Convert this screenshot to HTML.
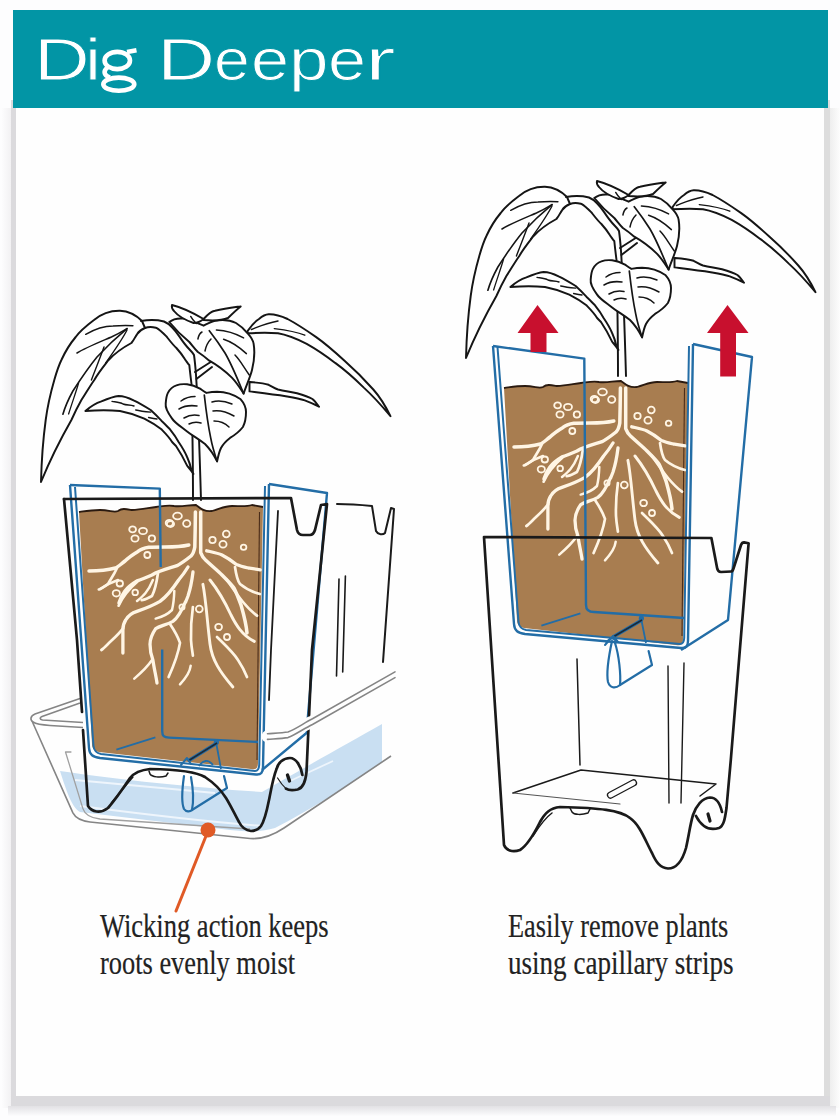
<!DOCTYPE html>
<html><head><meta charset="utf-8">
<style>
html,body{margin:0;padding:0;width:840px;height:1120px;overflow:hidden;background:#fdfdfe;}
body{position:relative;font-family:"Liberation Sans",sans-serif;}
.shL{position:absolute;left:2px;top:108px;width:9px;height:1000px;background:linear-gradient(to right,#fcfcfd,#f2f1f3);}
.bdL{position:absolute;left:11px;top:100px;width:5px;height:1006px;background:#dbdadd;}
.shR{position:absolute;left:830px;top:108px;width:10px;height:1000px;background:linear-gradient(to right,#eeeeee,#fdfdfd);}
.bdR{position:absolute;left:824px;top:100px;width:6px;height:1006px;background:#dddddd;}
.shB{position:absolute;left:8px;top:1106px;width:828px;height:10px;background:linear-gradient(to bottom,#e2e1e4,#fcfcfd);}
.bdB{position:absolute;left:11px;top:1096px;width:819px;height:10px;background:#dbdadd;}
.panel{position:absolute;left:16px;top:100px;width:808px;height:996px;background:#fefefe;}
.hdr{position:absolute;left:12.5px;top:9.5px;width:815px;height:98.5px;background:#0295a5;}
.ttl{position:absolute;left:0;top:15px;color:#fff;font-size:60px;line-height:90px;white-space:nowrap;}
.tl{position:absolute;top:0;transform-origin:0 0;-webkit-text-stroke:0.9px #0295a5;}
.cap{position:absolute;font-family:"Liberation Serif",serif;color:#222;-webkit-text-stroke:0.2px #222;font-size:33px;line-height:49.5px;white-space:nowrap;transform-origin:0 0;}
svg{position:absolute;left:0;top:0;}
</style></head><body>
<div class="shL"></div><div class="shR"></div><div class="shB"></div>
<div class="bdL"></div><div class="bdR"></div><div class="bdB"></div>
<div class="panel"></div>
<div class="hdr"></div>
<div class="ttl"><span class="tl" style="left:33.6px;transform:scaleX(1.286)">D</span><span class="tl" style="left:85.2px;transform:scaleX(1.2)">i</span><span class="tl" style="left:157.3px;transform:scaleX(1.343)">D</span><span class="tl" style="left:213.8px;transform:scaleX(1.07)">e</span><span class="tl" style="left:250.6px;transform:scaleX(1.14)">e</span><span class="tl" style="left:289.3px;transform:scaleX(1.185)">p</span><span class="tl" style="left:327.6px;transform:scaleX(1.14)">e</span><span class="tl" style="left:364.9px;transform:scaleX(1.53)">r</span></div>
<div class="cap" style="left:100px;top:902px;transform:scaleX(0.8035)">Wicking action keeps</div><div class="cap" style="left:100px;top:939px;transform:scaleX(0.80)">roots evenly moist</div><div class="cap" style="left:508px;top:902px;transform:scaleX(0.796)">Easily remove plants</div><div class="cap" style="left:508px;top:939px;transform:scaleX(0.82)">using capillary strips</div>
<svg width="840" height="1120" viewBox="0 0 840 1120">
<defs><g id="plant" fill="none" stroke="#151515" stroke-width="1.95" stroke-linejoin="round" stroke-linecap="round">
  <!-- big left leaf -->
  <path fill="#fff" d="M142,321 C135,314 128,311 120,310.7 C110,310.5 101,314 94,320 C86,326 80,331 75.7,337 C69,345 65,352 61.4,360 C58,367 56,374 54.3,380 C50,395 47,410 45.7,420 C43,440 41.5,462 41,482 C50,460 60,440 71.4,420 C75,412 78,406 81.4,400 C86,393 90,386 94.3,380 C99,372 104,366 108.6,360 C116,352 124,347 131.4,343 C134,340 135,337 137,334.3 C139,331 141,329.5 145,328 Z"/>
  <path stroke-width="1.5" d="M85.7,334.3 C95,329 105,326 113,326 C120,325.5 127,325.5 132.9,325.7"/>
  <path stroke-width="1.5" d="M77,353 C85,348 95,344 111.4,337 C118,334 123,331 127,328.6"/>
  <path stroke-width="1.6" d="M127,328.6 C118,336 110,343 97,357 C88,368 80,380 72.9,391 C68,400 65,407 62.9,414.3"/>
  <path stroke-width="1.4" d="M127,330 C122,340 117,347 105.7,362.9"/>
  <path stroke-width="1.4" d="M104,347 C100,358 96,368 91.4,380"/>
  <path stroke-width="1.3" d="M78.6,383 C76,392 73,400 68.6,414"/>
  <!-- petiole + stem -->
  <path d="M141,321 C150,319.5 158,320 164,321.5 C170,324 175,330 179.3,336.4 C183,342 187,347 190,350 C192,352 193,353 194,355 C195,362 195.5,368 196,375 C197,390 199,430 201,500"/>
  <path d="M145,328 C150,326 153,327 156.4,327.9 C160,330 163,333 166.4,336.4 C170,341 173,345 176.4,348 C180,352 183,356 185,359.3 C187,362 188,364 189.3,365 C190,372 191,380 191.5,384 C192,410 193,450 193,500"/>
  <path d="M195,372 L210.7,362"/>
  <path d="M196.4,379 L212,367"/>
  <!-- right long leaf -->
  <path fill="#fff" d="M247.6,331 C251,326 254,322 259,319 C262,316.5 265,314.5 268.6,314.3 C275,314 281,316 287.6,319 C297,324 306,330 316.2,337.1 C326,344 335,352 344.8,361 C355,370 364,379 373.3,389.5 C380,397 385,405 390.5,416.2 C382,406 373,396 363.8,387.6 C354,378 345,370 335.2,362.9 C325,355 316,349 306.7,343.8 C297,339 288,335 278,333.3 C268,332.5 258,332.8 247.6,333.3 Z"/>
  <path stroke-width="1.4" d="M251.4,329.5 C258,327 265,323.5 278,321"/>
  <path stroke-width="1.4" d="M274.3,328.6 C286,330 297,332 304.8,335.2"/>
  <!-- top center leaf -->
  <path fill="#fff" d="M169.3,322 C173,319 178,318 183.6,318.6 C190,319.5 197,323 203.6,325.7 C207,324 211,321.5 215,320.7 C222,319.5 230,320 236,323 C241,326 245,330 247.9,333.6 C251,337 253,340 253.6,343.6 C255,352 254,362 252,370 C250,378 246,386 243.6,393.6 C240,388 237,383 232.1,377.9 C225,371 217,365 209.3,360.7 C205,357 201,354 197.9,352 C194,348 192,345 189.3,342 C182,336 175,329 169.3,322 Z"/>
  <path stroke-width="1.7" d="M209.3,330.7 C215,338 220,345 225,353 C232,365 238,380 243.6,393.6"/>
  <path stroke-width="1.5" d="M197.9,339 C198.5,336 200,333 202,332"/>
  <path stroke-width="1.5" d="M205,351 C206,346 208,342 211,339"/>
  <path stroke-width="1.5" d="M216.4,330 C225,330.5 233,332 243.6,337.9"/>
  <path stroke-width="1.5" d="M223.6,339.3 C232,342 238,346 246.4,353.6"/>
  <path stroke-width="1.5" d="M235,355 C240,360 243,366 249.3,375"/>
  <!-- small top leaf A -->
  <path fill="#fff" d="M172,305 C180,307 190,311 203.6,319 C200,322 196,323 193.6,323 C185,320 178,316 174,311 C172,309 171.5,307 172,305 Z"/>
  <path stroke-width="1.4" d="M190.7,316.4 C192,319 194,321 196.4,323.6"/>
  <!-- small top leaf B -->
  <path fill="#fff" d="M203.6,319 C208,314 213,311 215,310.7 C225,308.5 233,307.5 240.7,306.4 C236,310 232,314 228,318 C222,320.5 215,321 203.6,320 Z"/>
  <!-- lower right small leaf -->
  <path fill="#fff" d="M249.5,382 C256,382.5 263,383 268.6,384.8 C272,386.5 275,388.5 278,389.5 C285,391 291,392 297,393.3 C303,395 308,396.5 312.4,399 C315,401 317,404 319,406.7 C314,404 309,402 304.8,400.4 C299,398.5 293,397.5 285.7,396.2 C274,394.5 262,393 249.5,391.4 Z"/>
  <!-- lower heart leaf -->
  <path fill="#fff" d="M167.9,392.9 C170,389 173,386.5 176.4,385.4 C180,384 184,384 187.1,384.3 C192,385 196,386.5 200,388.6 C202,390 204,391.5 206.4,392.9 C210,392.3 213.5,391.9 217.1,391.8 C225,391.8 233,394 240.7,399.3 C244,403 246,407 246,412 C246,418 245,423 242.9,427 C239,432 235,435 230,437.9 C226,441 223,444 221,448 C219,452 218,457 217.1,461.4 C214,455 210,449 205,444 C197,438 193,436 187.1,431.4 C180,426 175,423 172.1,418.6 C168,413 165,408 165.7,403.6 C166,399 166.5,395.5 167.9,392.9 Z"/>
  <path stroke-width="1.7" d="M204.3,395 C206,410 208,425 210.7,437.9 C212,445 214,452 217.1,461.4"/>
  <path stroke-width="1.5" d="M181,401 C185,398 190,396.5 195,396.5"/>
  <path stroke-width="1.5" d="M179,409 C184,406 190,405 197,406"/>
  <path stroke-width="1.5" d="M184,418 C189,415 194,414.5 199,415.5"/>
  <path stroke-width="1.5" d="M189,424 C193,422 197,422 201,423"/>
  <path stroke-width="1.5" d="M212,402 C218,400 225,401 232,404"/>
  <path stroke-width="1.5" d="M213,411 C220,410 227,412 234,416"/>
  <path stroke-width="1.5" d="M214,421 C220,421 225,423 229,427"/>
  <!-- lower left leaf -->
  <path fill="#fff" d="M85.4,411 C90,407 95,403.5 101.4,401.4 C107,399 113,396.5 118.6,396 C124,396 129,398 133.6,400.4 C140,403.5 145,406.5 150.7,410 C154,413 158,417 161.4,420.7 C165,424 167,426.5 170,429.3 C173,433 176,437 178.6,442 C182,447 185,452 187.1,457 C189,461 190.5,466 191.4,470 C192,472 193,473 193.5,474 C191,470 189,468 187.1,465.7 C184,459 180,452 176,446 C174,444 173,443 172.1,442 C169,437 165,433 161.4,429.3 C156,425 150,421.5 144.3,418.6 C136,415 128,412.5 120,411 C110,410 98,410 85.4,411 Z"/>
  <path stroke-width="1.4" d="M112,401.4 C116,402 120,402 123,404 C127,405.5 130,404.5 134,406"/>
  <path stroke-width="1.4" d="M135.7,410 C140,411 144,411.5 150.7,412.1"/>
  <path stroke-width="1.4" d="M148.6,417.5 C151,418 153,418.5 157,419"/>
</g>
<g id="liner">
  <!-- soil -->
  <path fill="#a87d50" d="M79,512 C86,511 92,510 100,510 C110,510 114,513 118,511 C122,508 126,509 132,510 C140,510 148,508 156,507 C164,506 168,505 174,506 C182,507 188,505 196,505 C200,508 204,512 212,511 C220,509 224,506 232,506 C240,506 246,507 252,505 L263,507 L258,763 C258,768 256,770 251,769 L99,752 C95,751 92,749 92,744 Z"/>
  <path fill="none" stroke="#2a1a10" stroke-width="1.8" d="M79,512 C86,511 92,510 100,510 C110,510 114,513 118,511 C122,508 126,509 132,510 C140,510 148,508 156,507 C164,506 168,505 174,506 C182,507 188,505 196,505 C200,508 204,512 212,511 C220,509 224,506 232,506 C240,506 246,507 252,505 L263,507"/>
  <path fill="none" stroke="#4a2c18" stroke-width="1.1" d="M259.5,512 L257,760"/>
  <!-- strip edge in soil -->
  
  <!-- roots -->
  <g fill="none" stroke="#fff5e4" stroke-linecap="round" stroke-linejoin="round">
    <!-- taproot left line -> root2 -->
    <path stroke-width="3.5" d="M195.4,512 C195.3,525 195,540 194.8,547 C194,552 192,555 191,556 C186,560 182,563 177,565.7 C170,568 160,570 152,575 C145,578 140,580 137,581 C132,584 128,587 125,591 C122,595 120,599 119,603"/>
    <!-- taproot right line -->
    <path stroke-width="3.5" d="M200.7,512 C200.7,525 200.7,540 200.7,552.6 C202,556 203,558 205.5,560 C212,566 218,571 222,575 C227,580 231,584 234,588 C237,594 239,600 241,605 C243,612 246,622 247,633"/>
    <!-- root1 upper-left lateral -->
    <path stroke-width="3.5" d="M188.8,545 C180,547 172,547 165,547 C158,547 152,547 148.8,547.3 C144,548 141,549 138,551.4 C132,555 128,558 125,561 C121,564 118,567 115.5,568 C108,570 98,571 89,571"/>
    <path stroke-width="2.7" d="M117,568 C114,575 110,580 108,584 C104,587 101,589 98.8,589.5"/>
    <!-- root 2 branch -->
    <path stroke-width="2.7" d="M158,573 C157,580 155,590 152,596 C148,598 145,600 141.7,600.2"/>
    <!-- right lateral -->
    <path stroke-width="3.3" d="M206.7,550.8 C212,552 218,553 222,555 C228,558 232,561 236.4,564.5 C240,566 244,567 248.3,568 C252,568.5 256,569 260.2,569.9"/>
    <path stroke-width="2.7" d="M235,567 C236,574 237,580 240,584 C246,589 252,592 260,594"/>
    <!-- center-left main root -->
    <path stroke-width="3.3" d="M188,567 C185,572 182,576 178.6,580 C172,590 166,597 160,601.4 C152,606 144,609 137,611.4 C132,613 128,616 125.7,620 C123,624 122.9,628 122.9,630 C122.9,640 122.9,646 122.9,653"/>
    <path stroke-width="2.7" d="M122.9,628.6 C118,635 112,640 108,644 C105,647 103,649 101.4,650"/>
    <!-- long down root -->
    <path stroke-width="3.3" d="M193,572 C192,580 190,590 188,596 C186,601 185,604 185.7,601.4 C182,610 178,618 172.9,621.4 C166,625 160,626 155.7,628.6 C152,634 150,640 150,644.3 C150,650 151,655 152.9,660 C154,668 156,676 157,683"/>
    <path stroke-width="2.5" d="M152,660 C148,666 142,672 134.3,678.6"/>
    <path stroke-width="2.5" d="M174.3,591 C174,600 173,606 172,610 C168,614 162,617 155.7,618.6"/>
    <path stroke-width="2.7" d="M170,624 C174,630 178,637 180,642.9 C178,655 174,665 168.6,677"/>
    <!-- second-from-center -->
    <path stroke-width="2.7" d="M192.9,607 C191,620 190.7,630 191,640 C191.5,648 192.5,652 192.9,655.7"/>
    <path stroke-width="2.5" d="M190.7,665.7 C190,672 186,678 180,684.3"/>
    <!-- center-right down root -->
    <path stroke-width="2.9" d="M202.9,584.3 C206,600 207,620 210,644 C212,660 220,672 232.9,687"/>
    <!-- right of center -->
    <path stroke-width="2.9" d="M210,580 C218,590 224,600 231,615 C236,625 242,635 254.3,641.4"/>
    <path stroke-width="2.7" d="M217,637 C225,645 233,652 238,660 C242,666 245,672 247,677"/>
    <path stroke-width="2.7" d="M227,580 C234,590 238,596 243,602 C248,608 252,612 257,615.7"/>
    <!-- top right branches of upper lateral -->
    <path stroke-width="2.5" d="M100,589 C106,585 112,582 118,580"/>
    <path stroke-width="2.7" d="M118.6,605.7 C124,594 130,588 137,582"/>
    <path stroke-width="2.5" d="M137,601 C143,596 148,592 152.9,580"/>
  </g>
  <g fill="none" stroke="#fff5e4" stroke-width="1.8">
    <ellipse cx="132.6" cy="529.4" rx="3.4" ry="3"/><ellipse cx="143" cy="531" rx="4" ry="3.2"/>
    <ellipse cx="135" cy="538.5" rx="3.6" ry="3.2"/><ellipse cx="151.9" cy="538.5" rx="3.2" ry="3.2"/>
    <ellipse cx="147.3" cy="555" rx="3" ry="3"/>
    <ellipse cx="119.8" cy="583.5" rx="3.2" ry="3"/><ellipse cx="116.3" cy="593.3" rx="3.6" ry="3.2"/><ellipse cx="135.2" cy="592.4" rx="2.8" ry="2.8"/>
    <ellipse cx="170.5" cy="524" rx="3.6" ry="3"/>
    <ellipse cx="177.5" cy="516" rx="4.4" ry="3.4"/><ellipse cx="169.3" cy="523" rx="3.6" ry="3.2"/><ellipse cx="186.7" cy="523.5" rx="3.6" ry="3.4"/>
    <ellipse cx="226.3" cy="534" rx="3.4" ry="3.4"/><ellipse cx="212.5" cy="540" rx="3.2" ry="3.2"/><ellipse cx="223" cy="544.3" rx="3.6" ry="3.4"/><ellipse cx="243.6" cy="547.3" rx="2.8" ry="2.6"/>
    <ellipse cx="182" cy="607" rx="2.6" ry="2.6"/><ellipse cx="199.3" cy="609" rx="3.4" ry="3.4"/>
    <ellipse cx="218.6" cy="627" rx="3.4" ry="3.2"/><ellipse cx="227" cy="637" rx="3" ry="3"/>
  </g>
  
  
</g>
</defs>
<g fill="none" stroke="#fff" stroke-width="4.6"><ellipse cx="117.3" cy="60.5" rx="12.7" ry="8.6"/><path d="M127,52 L136.5,50.3" stroke-linecap="butt"/><ellipse cx="118.8" cy="84.2" rx="15.5" ry="6.6"/><path d="M107.5,67.5 C103.5,70.5 103,75 110,77.6"/></g>
<use href="#plant"/>
<use href="#plant" transform="translate(425,-124)"/>
<g id="leftpot">
  <!-- back pot (right) -->
  <g fill="none" stroke="#1a1a1a" stroke-width="1.8" stroke-linejoin="round" stroke-linecap="round">
    <path d="M337,504 C350,504 362,505 372,506 L376,531 C378,535 383,535 385,533 L391,508 L394,509 L383,662" stroke-width="2"/>
    <path d="M339,579 L336.5,676" stroke-width="1.6"/>
    <path d="M345.4,576 L342.7,672" stroke-width="1.6"/>
    
  </g>
  <!-- water -->
  <path fill="#c9dff2" d="M60,771 C120,780 200,788 262,792 C300,770 345,745 382,724 L382,762 C350,785 310,810 275,828 C262,832 250,832 230,830 L80,812 C72,808 66,790 60,771 Z"/>
  <path fill="none" stroke="#eef5fc" stroke-width="2" d="M80,806 C150,815 210,822 262,826"/><path fill="none" stroke="#eef5fc" stroke-width="1.8" d="M75,780 C120,784 170,789 215,793"/><path fill="none" stroke="#eef5fc" stroke-width="1.8" d="M290,781 L333,761"/>
  <!-- tray -->
  <g fill="none" stroke="#858585" stroke-width="1.6" stroke-linejoin="round">
    <path d="M80,698.5 L35,714 C30,716 30,720 33,722 C36,724 42,725 50,725.5 L83,727.5"/>
    <path d="M80,703 L42,716.5 C39.5,717.5 39.5,719.5 42.5,720 L83,722.5"/>
            <path d="M32,721 L72.9,812.9 C76,819 82,821 90,822 L250,838.5 C262,839.5 272,836 284,828 L391,756"/>
    <path d="M71.4,752 L65.5,752 L82.9,808.6 C85,815 90,818 100,819 L250,829" stroke="#a0a0a0" stroke-width="1.3"/>
  </g>
  <use href="#liner"/>
  <!-- liner outline & strips -->
  <g fill="none" stroke="#236da6" stroke-linejoin="round" stroke-width="2.4">
    <path d="M70,485 L89,748 C89.5,755 93,757 100,758 L256,774.5 C261,775 263,772.5 263,767 L269,484"/>
    <path stroke-width="2" d="M75,487 L93.5,746 C94,751 96.5,753 101,754 L255,771 C258,771 259,769 259.2,765 L265,486"/>
    <path d="M70,485 L159.8,488.6 L160.7,567"/>
    <path stroke="#236da6" d="M162.2,649.5 L162.2,731 C162.2,736 164,737.4 169,737.6 L258,742"/>
    <path stroke="#236da6" stroke-width="1.8" d="M116.4,749.6 L155.4,737.4"/>
    <circle cx="216.4" cy="742.2" r="2.6" fill="#236da6" stroke="none"/>
    <path stroke-width="1.8" d="M216.4,744 L221,769"/>
    <path stroke-width="1.8" d="M199,766 C203,760 208,759 213,765"/>
    <path d="M269,484 L327,493 L306.5,733 L262,770"/>
    
  </g>
  <path d="M188,761 L217,743" stroke="#236da6" stroke-width="3.6" fill="none"/><path d="M188,761 L217,743" stroke="#1a2a3a" stroke-width="1.6" fill="none"/>
  <!-- wick -->
  <g fill="none" stroke="#236da6" stroke-linejoin="round" stroke-linecap="round">
    <path stroke-width="2.2" d="M184,776 C182,790 181,802 184,809 C186,812 190,812 192,810 C194,800 193,788 191,777"/>
    <path stroke-width="2.2" d="M192,810 L227,788 L224,776"/>
    <path stroke-width="2" d="M181,765 L187,758 L191,764"/>
  </g>
  <!-- front pot black -->
  <g fill="none" stroke="#1a1a1a" stroke-width="2.7" stroke-linejoin="round" stroke-linecap="round">
    <path d="M64,499 L291,498 L297,530 C298,534 300,535 303,535 L310,535 C313,535 314,533 315,530 L321,505 L327,504 L312,650 L306.5,772 C305.5,782 303,788 297.6,789.5 C292,790.5 288,790 286,788.6 M302.4,775 C301,766 296,758 290,758 C283,758 278,763 276.7,768.6 C273,778 271,790 269,800 C267,810 265,820 261,826 C258,830 255,831 251,831 C246,830.5 242,828 239,822 C235,815 231,806 226,798 C221,790 214,783 205,777 C197,772 180,769.5 150,769 C140,770 134,773 130,778 C122,790 115,800 108,808 C100,814 92,812 88,806 L83,730"/>
    <path d="M64,499 L77,640 L82,712" />
    <path d="M278,511 L271,650 L269,700" stroke-width="1.8"/>
    <path d="M111.4,803 C118,795 126,785 132.9,777" stroke-width="1.6"/>
    <path d="M149,771 L150,774 C152,777 160,778 166,776 L168,773" stroke-width="1.5"/>
    <path d="M287.5,775 L289.5,781" stroke-width="3.4"/><path d="M286,788.6 C283,786 280,782 277.6,778" stroke-width="1.2"/>
  </g>
  <!-- tray rim in front -->
  <g fill="none" stroke-linecap="round">
    <path d="M267.5,736.5 C275,736 282,735.5 288,734 C296,731 304,725 312.5,721.5 L395,675" stroke="#fefefe" stroke-width="12"/>
    <path d="M267.5,733.8 C275,733.2 282,732.8 288,732 C296,729 304,723 312.5,718.8 L395,671.9" stroke="#858585" stroke-width="1.6"/>
    <path d="M267.5,739.4 C275,738.8 282,738.4 288,737.6 C296,734.5 304,728.5 312.5,724.5 L395,677.6" stroke="#858585" stroke-width="1.6"/>
  </g>
  <!-- orange callout -->
  <path d="M208,831 L176,911" stroke="#e05a26" stroke-width="3" stroke-linecap="round"/>
  <circle cx="208" cy="830" r="7.5" fill="#e05a26"/>
</g>
<g id="rightpot">
  <use href="#liner" transform="translate(425,-124)"/>
  <!-- liner outline & strips -->
  <g fill="none" stroke="#236da6" stroke-linejoin="round" stroke-width="2.4">
    <path d="M493,346 L514,624 C514.5,631 518,633 525,634 L681,648 C686,648.5 688,646 688,641 L693,344"/>
    <path stroke-width="2" d="M497.5,347 L518.5,622 C519,627 521.5,629 526,630 L680,644 C683,644 684,642 684.2,638 L689,346"/>
    <path d="M493,346 L584.3,358.6 L586,605 C586,610 589,612 594,612 L684,618"/>
    <path stroke="#236da6" stroke-width="1.8" d="M541.4,625.6 L580.4,613.4"/>
    <circle cx="641.4" cy="618.2" r="2.6" fill="#236da6" stroke="none"/>
    <path stroke-width="1.8" d="M641.4,620 L646,643"/>
    <path stroke-width="1.8" d="M606,643 C610,637 614,637 617,643"/>
    <path d="M693,344 L752,357 L728,620 L681,650"/>
    
  </g>
  <path d="M613,637 L642,620" stroke="#236da6" stroke-width="3.6" fill="none"/><path d="M613,637 L642,620" stroke="#1a2a3a" stroke-width="1.6" fill="none"/>
  <!-- red arrows -->
  <path fill="#c8102e" d="M537.5,305 L558.5,333 L546.5,333 L546.5,352 L530.5,352 L530.5,333 L517.5,333 Z"/>
  <path fill="#c8102e" d="M727.5,305 L748.5,333 L736,333 L736,376.5 L720.2,376.5 L720.2,333 L707,333 Z"/>
  <!-- wick -->
  <g fill="none" stroke="#236da6" stroke-linejoin="round" stroke-linecap="round">
    <path stroke-width="2.2" d="M612,641 C609,655 606,672 608,682 C610,688 615,689 620,685 C621,675 619,655 615,643"/>
    <path stroke-width="2.2" d="M620,685 L652,665 L648.6,651"/>
    <path stroke-width="2" d="M605,645 L613,636 L618,642"/>
  </g>
  <!-- outer pot -->
  <g fill="none" stroke="#1a1a1a" stroke-width="2.7" stroke-linejoin="round" stroke-linecap="round">
    <path d="M484,537 L711.4,538 L717.1,568 C717.6,571 719,572 721,572 L731,571.5 C732.5,571.5 733,570 733.5,568.5 L741,545 C741.8,543 742.8,542.4 744,542.4 L748.6,543.3 L730.8,760 L726.5,808 C725,818 724,826 719,828 C714,829.5 708,829 704,826 C700,823 698,820 696,816 M722,812 C720,803 716,797.5 710,797.5 C702,798 696,806 693,815 C690,825 689,835 686,848 C682,862 676,868.5 668,868.5 C660,868 656,862 652,853 C645,840 640,825 630,818 C620,810 600,808 560,807 C550,808 545,813 540,822 C534,834 528,845 520,850 C512,853 506,850 504,845 L484,537"/>
    <path d="M533,836 C540,825 545,818 552,813" stroke-width="1.5"/>
        <path d="M708,814 L710,821" stroke-width="3.2"/>
    <path d="M577,659 L580,765" stroke-width="1.5"/>
    <path d="M668,666 L669,803" stroke-width="1.4"/>
    <path d="M684,663 L681,803" stroke-width="1.4"/>
    <path d="M513,793 L581,770 L716,784 L700,796" stroke-width="1.5"/>
    <path d="M513,793 L620,804" stroke-width="1.2" stroke="#555"/>
    <rect x="606" y="786" width="32" height="6" rx="3" transform="rotate(-28 622 789)" stroke-width="1.3"/>
    <path d="M570,808 L572,812 C574,815 582,815 588,813 L590,809" stroke-width="1.5"/>
  </g>
</g>

</svg>
</body></html>
